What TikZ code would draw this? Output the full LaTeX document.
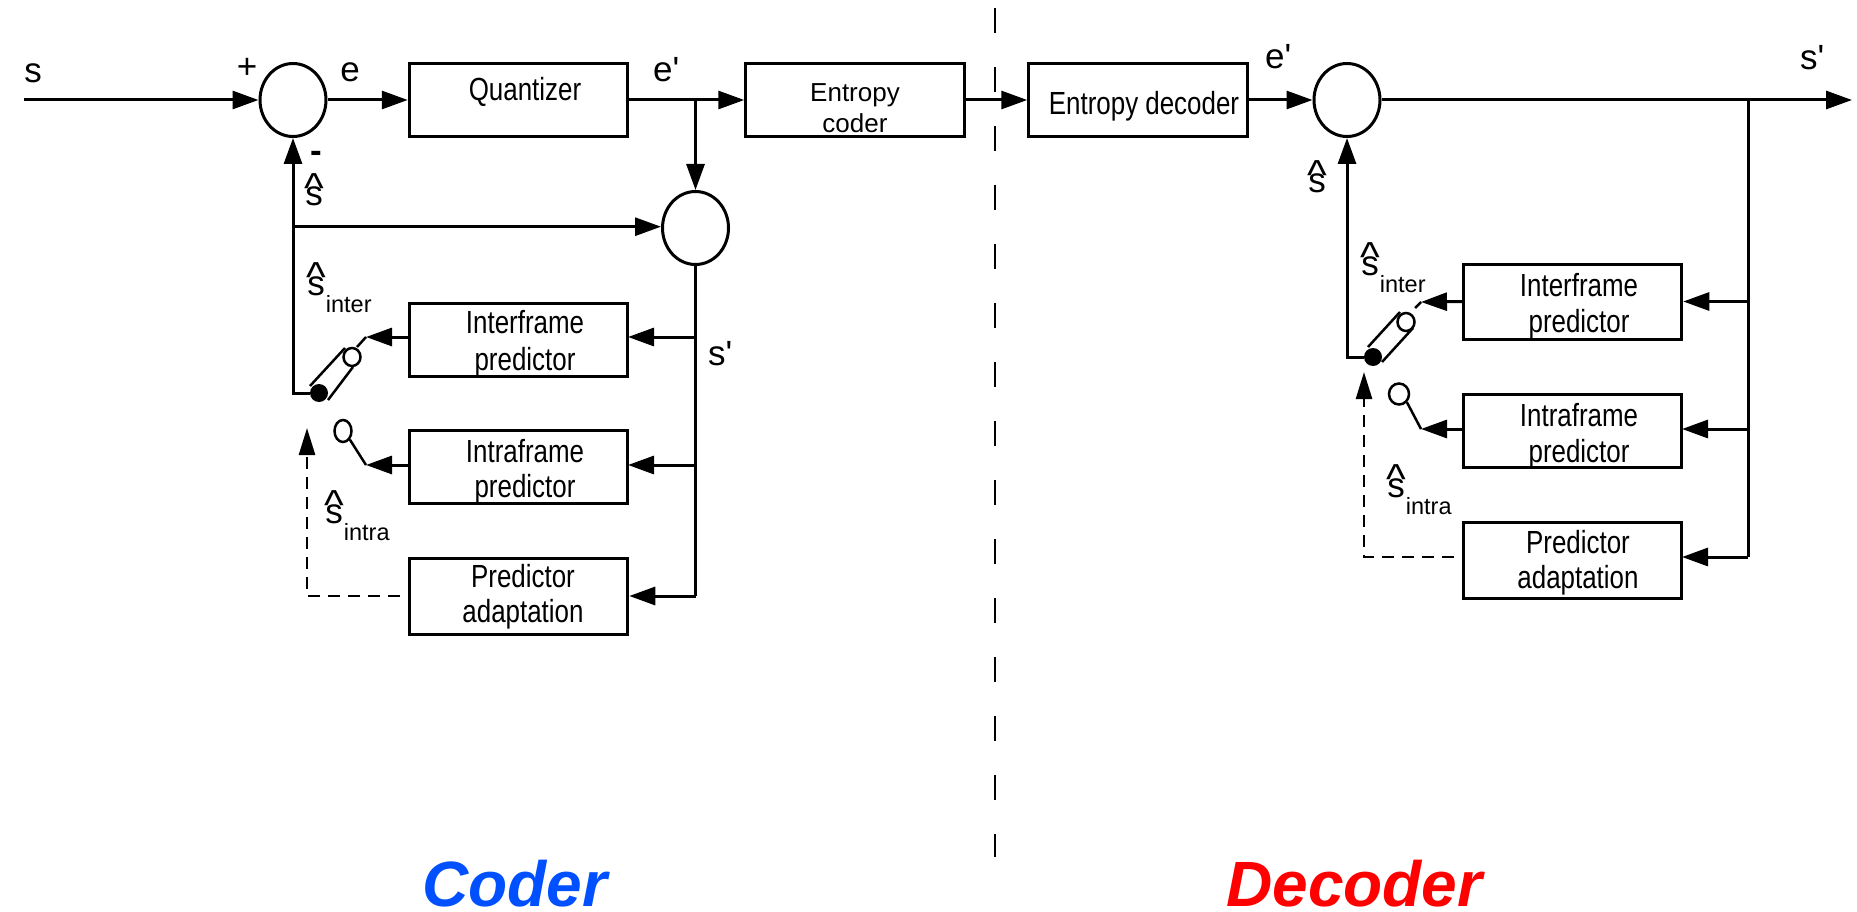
\documentclass[tikz,border=0pt]{standalone}
\usepackage{graphicx}
\usepackage{fontspec}
\setmainfont{Liberation Sans}
\newfontfamily\narrowf[FakeStretch=0.81]{Liberation Sans}
\usetikzlibrary{arrows.meta,shapes.geometric}
\newcommand\hatS{\ooalign{\hfil\raisebox{3.5pt}{\scalebox{1.2}{\textasciicircum}}\hfil\cr\hfil s\hfil\cr}}
\newcommand\subT[1]{\raisebox{-17pt}{\fontsize{23.5}{26}\selectfont #1}}
\definecolor{coderblue}{RGB}{0,80,255}
\tikzset{
  boxn/.style={draw,line width=3pt,minimum width=218.5pt,inner sep=0pt},
  sumn/.style={draw,ellipse,line width=3pt,minimum width=66pt,minimum height=73pt,inner sep=0pt},
  opn/.style={draw,ellipse,line width=2.5pt,fill=white,inner sep=0pt},
  dotn/.style={circle,fill=black,minimum size=18pt,inner sep=0pt},
  txt/.style={inner sep=0pt,anchor=base,font=\narrowf\fontsize{32}{36}\selectfont},
  txtp/.style={inner sep=0pt,anchor=base,font=\fontsize{26}{30}\selectfont},
  lab/.style={inner sep=0pt,anchor=base,font=\fontsize{35}{38}\selectfont},
  labw/.style={lab,anchor=base west},
  conn/.style={line width=3pt,line join=miter},
  arr/.style={conn,-{Triangle[length=26pt,width=18pt]}},
  dsh/.style={line width=2.6pt,dash pattern=on 12pt off 8pt,dash phase=12pt,-{Triangle[length=27pt,width=16pt]}},
  tube/.style={line width=2.5pt},
  title/.style={inner sep=0pt,anchor=base west,font=\fontsize{64}{68}\selectfont\bfseries\itshape}
}
\begin{document}
\begin{tikzpicture}[x=1pt,y=-1pt]
\useasboundingbox (0,0) rectangle (1857,912);
% ---- boundary line
\coordinate (divtop) at (995,8);
\coordinate (divbot) at (995,857);
\draw[line width=2.2pt,dash pattern=on 25pt off 34pt] (divtop) -- (divbot);
% ---- coder nodes
\coordinate (sin) at (24,100);
\node[sumn] (c1) at (293,100) {};
\node[boxn,minimum height=73pt] (qu) at (518.5,100) {};
\node[boxn,minimum height=73pt] (ec) at (855,100) {};
\node[sumn] (c2) at (695.5,228) {};
\node[boxn,minimum height=73pt] (if) at (518.5,339.5) {};
\node[boxn,minimum height=73pt] (ia) at (518.5,466.5) {};
\node[boxn,minimum height=76pt] (pa) at (518.5,596) {};
\node[dotn] (sd) at (319,393) {};
\node[opn,minimum width=17pt,minimum height=18pt] (o1) at (352,357) {};
\node[opn,minimum width=17pt,minimum height=22pt] (o2) at (343,431) {};
\coordinate (ify) at (628,337);
\coordinate (iay) at (628,465);
\coordinate (a1) at (366,337);
\coordinate (t1) at (357,347);
\coordinate (a2) at (366,465);
\coordinate (dtip) at (307,428);
\coordinate (ta) at (310,386);
\coordinate (tb) at (345,348);
\coordinate (tc) at (328,400);
\coordinate (td) at (353,367);
% ---- decoder nodes
\node[boxn,minimum height=73pt] (ed) at (1138,100) {};
\node[sumn] (c3) at (1347,100) {};
\coordinate (sout) at (1852,100);
\coordinate (rj) at (1748,100);
\node[boxn,minimum height=75pt] (rif) at (1572.5,301.5) {};
\node[boxn,minimum height=73pt] (ria) at (1572.5,430.5) {};
\node[boxn,minimum height=76pt] (rpa) at (1572.5,560) {};
\node[dotn] (rsd) at (1373,357) {};
\node[opn,minimum width=17pt,minimum height=18pt] (ro1) at (1406,322) {};
\node[opn,minimum width=20pt,minimum height=21pt] (ro2) at (1399,394) {};
\coordinate (riy) at (1682,429);
\coordinate (rpy) at (1682,557);
\coordinate (ra1) at (1421,302);
\coordinate (rt1) at (1415,308);
\coordinate (ra2) at (1421,429);
\coordinate (rdtip) at (1364,372);
\coordinate (rta) at (1368,347);
\coordinate (rtb) at (1400,312);
\coordinate (rtc) at (1382,362);
\coordinate (rtd) at (1413,328);
% ---- coder connectors
\draw[arr] (sin) -- (c1.west);
\draw[arr] (c1.east) -- (qu.west);
\draw[arr] (qu.east) -- (ec.west);
\draw[arr] (c2.north |- qu.east) -- (c2.north);
\draw[arr] (sd.west) -- (sd.west -| c1.south) -- (c1.south);
\draw[arr] ([yshift=1.3pt]c1.south |- c2.west) -- ([yshift=1.3pt]c2.west);
\draw[conn] (c2.south) -- (c2.south |- pa.east);
\draw[arr] (c2.south |- ify) -- (ify);
\draw[arr] (c2.south |- iay) -- (iay);
\draw[arr] (c2.south |- pa.east) -- (pa.east);
\draw[arr] (if.west |- a1) -- (a1);
\draw[conn,line width=2.5pt] (a1) -- (t1);
\draw[arr] (ia.west |- a2) -- (a2);
\draw[conn,line width=2.5pt] (a2) -- (o2.south east);
\draw[tube] (ta) -- (tb);
\draw[tube] (tc) -- (td);
\draw[dsh] (pa.west) -- (pa.west -| dtip) -- (dtip);
% ---- decoder connectors
\draw[arr] (ec.east) -- (ed.west);
\draw[arr] (ed.east) -- (c3.west);
\draw[arr] (c3.east) -- (sout);
\draw[arr] (rsd.west) -- (rsd.west -| c3.south) -- (c3.south);
\draw[conn] (rj) -- (rj |- rpy);
\draw[arr] (rj |- rif.east) -- (rif.east);
\draw[arr] (rj |- riy) -- (riy);
\draw[arr] (rj |- rpy) -- (rpy);
\draw[arr] (rif.west) -- (ra1);
\draw[conn,line width=2.5pt] (ra1) -- (rt1);
\draw[arr] (ria.west |- ra2) -- (ra2);
\draw[conn,line width=2.5pt] (ra2) -- (ro2.south east);
\draw[tube] (rta) -- (rtb);
\draw[tube] (rtc) -- (rtd);
\draw[dsh] (rpa.west |- rpy) -- (rdtip |- rpy) -- (rdtip);
% ---- box texts
\node[txt] (tqu) at (525,101) {Quantizer};
\node[txtp] (tec1) at (855,102) {Entropy};
\node[txtp] (tec2) at (855,133) {coder};
\node[txt] (ted) at (1144,115) {Entropy decoder};
\node[txt] (tif1) at (525,333) {Interframe};
\node[txt] (tif2) at (525,370) {predictor};
\node[txt] (tia1) at (525,462) {Intraframe};
\node[txt] (tia2) at (525,497) {predictor};
\node[txt] (tpa1) at (523,587) {Predictor};
\node[txt] (tpa2) at (523,622) {adaptation};
\node[txt] (trif1) at (1579,296) {Interframe};
\node[txt] (trif2) at (1579,332) {predictor};
\node[txt] (tria1) at (1579,426) {Intraframe};
\node[txt] (tria2) at (1579,462) {predictor};
\node[txt] (trpa1) at (1578,553) {Predictor};
\node[txt] (trpa2) at (1578,588) {adaptation};
% ---- signal labels
\node[lab] (ls) at (33,83) {s};
\node[lab] (lplus) at (247,79) {+};
\node[lab] (le) at (350,82) {e};
\node[labw] (lep) at (653,82) {e\textquotesingle};
\node[lab,font=\fontsize{35}{38}\selectfont\bfseries] (lminus) at (316,163) {-};
\node[lab] (lsh) at (314,206) {\hatS};
\node[labw] (lsi) at (306,295) {\hatS\subT{inter}};
\node[labw] (lsp) at (708,365) {s\textquotesingle};
\node[labw] (lsa) at (324,523) {\hatS\subT{intra}};
\node[labw] (lrep) at (1265,69) {e\textquotesingle};
\node[labw] (lrsp) at (1800,70) {s\textquotesingle};
\node[lab] (lrsh) at (1317,193) {\hatS};
\node[labw] (lrsi) at (1360,275) {\hatS\subT{inter}};
\node[labw] (lrsa) at (1386,497) {\hatS\subT{intra}};
% ---- titles
\node[title,text=coderblue] (tcoder) at (422,906) {Coder};
\node[title,text=red] (tdecoder) at (1226,906) {Decoder};
\end{tikzpicture}
\end{document}
